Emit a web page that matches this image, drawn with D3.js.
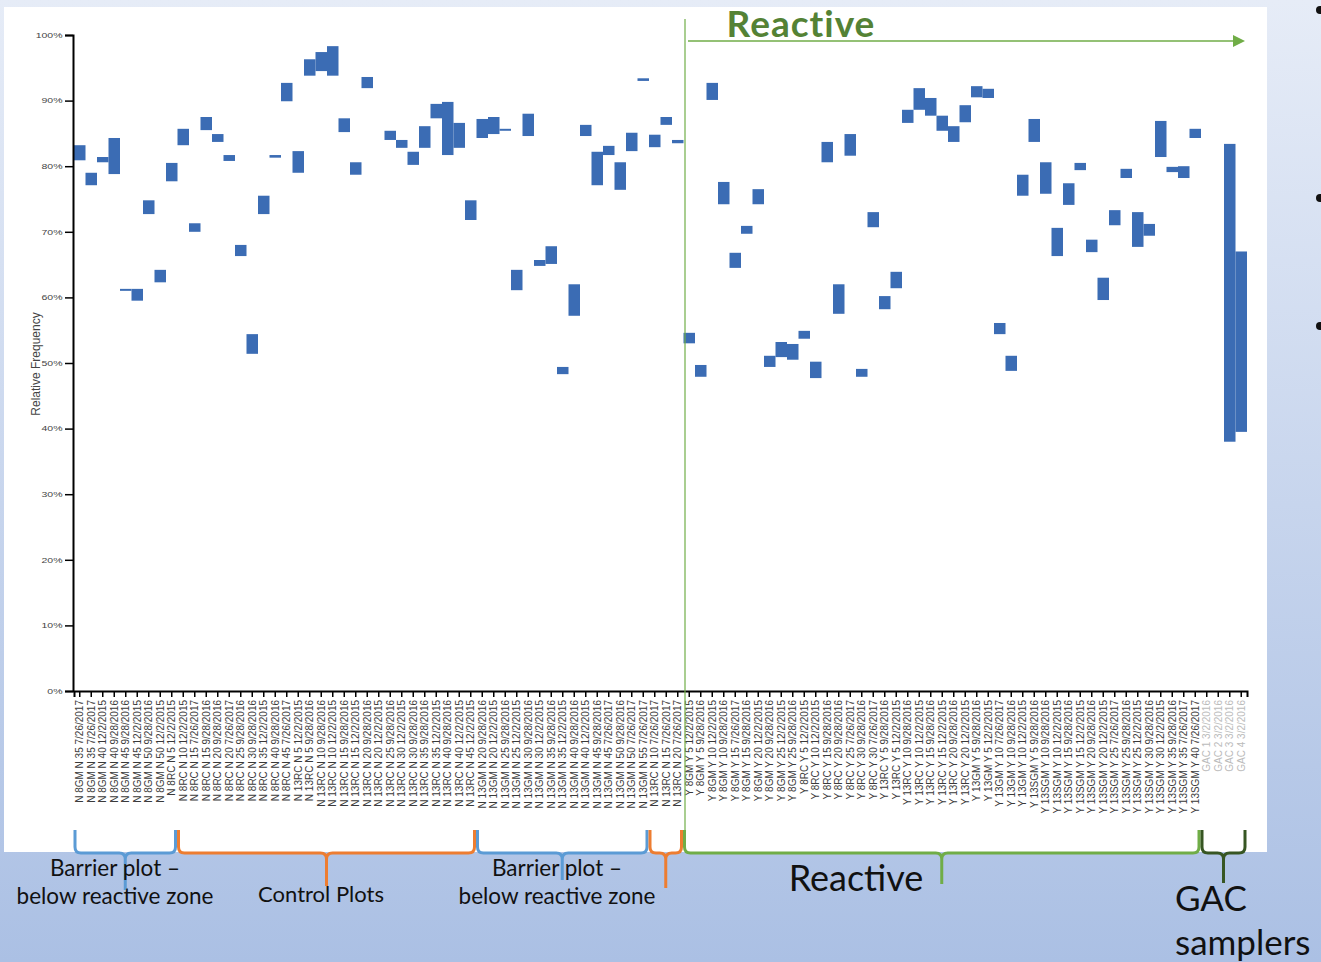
<!DOCTYPE html>
<html>
<head>
<meta charset="utf-8">
<script src="https://cdn.jsdelivr.net/npm/d3@7"></script>
<style>
body { margin: 0; overflow: hidden; }
svg { display: block; }
</style>
</head>
<body>
<svg></svg>
<script>
let labels = [
  'N 8GM N 35 7/26/2017', 'N 8GM N 35 7/26/2017', 'N 8GM N 40 12/2/2015', 'N 8GM N 40 9/28/2016',
  'N 8GM N 45 9/28/2016', 'N 8GM N 45 12/2/2015', 'N 8GM N 50 9/28/2016', 'N 8GM N 50 12/2/2015',
  'N 8RC N 5 12/2/2015',
  'N 8RC N 10 12/2/2015', 'N 8RC N 15 7/26/2017', 'N 8RC N 15 9/28/2016', 'N 8RC N 20 9/28/2016',
  'N 8RC N 20 7/26/2017', 'N 8RC N 25 9/28/2016', 'N 8RC N 30 9/28/2016', 'N 8RC N 35 12/2/2015',
  'N 8RC N 40 9/28/2016', 'N 8RC N 45 7/26/2017', 'N 13RC N 5 12/2/2015', 'N 13RC N 5 9/28/2016',
  'N 13RC N 10 9/28/2016', 'N 13RC N 10 12/2/2015', 'N 13RC N 15 9/28/2016', 'N 13RC N 15 12/2/2015',
  'N 13RC N 20 9/28/2016', 'N 13RC N 20 12/2/2015', 'N 13RC N 25 9/28/2016', 'N 13RC N 30 12/2/2015',
  'N 13RC N 30 9/28/2016', 'N 13RC N 35 9/28/2016', 'N 13RC N 35 12/2/2015', 'N 13RC N 40 9/28/2016',
  'N 13RC N 40 12/2/2015', 'N 13RC N 45 12/2/2015',
  'N 13GM N 20 9/28/2016', 'N 13GM N 20 12/2/2015', 'N 13GM N 25 9/28/2016', 'N 13GM N 25 12/2/2015',
  'N 13GM N 30 9/28/2016', 'N 13GM N 30 12/2/2015', 'N 13GM N 35 9/28/2016', 'N 13GM N 35 12/2/2015',
  'N 13GM N 40 9/28/2016', 'N 13GM N 40 12/2/2015', 'N 13GM N 45 9/28/2016', 'N 13GM N 45 7/26/2017',
  'N 13GM N 50 9/28/2016', 'N 13GM N 50 7/26/2017', 'N 13GM N 55 7/26/2017',
  'N 13RC N 10 7/26/2017', 'N 13RC N 15 7/26/2017', 'N 13RC N 20 7/26/2017',
  'Y 8GM Y 5 12/2/2015', 'Y 8GM Y 5 9/28/2016', 'Y 8GM Y 10 12/2/2015', 'Y 8GM Y 10 9/28/2016',
  'Y 8GM Y 15 7/26/2017', 'Y 8GM Y 15 9/28/2016', 'Y 8GM Y 20 12/2/2015', 'Y 8GM Y 20 9/28/2016',
  'Y 8GM Y 25 12/2/2015', 'Y 8GM Y 25 9/28/2016', 'Y 8RC Y 5 12/2/2015', 'Y 8RC Y 10 12/2/2015',
  'Y 8RC Y 15 9/28/2016', 'Y 8RC Y 20 9/28/2016', 'Y 8RC Y 25 7/26/2017', 'Y 8RC Y 30 9/28/2016',
  'Y 8RC Y 30 7/26/2017', 'Y 13RC Y 5 9/28/2016', 'Y 13RC Y 5 12/2/2015', 'Y 13RC Y 10 9/28/2016',
  'Y 13RC Y 10 12/2/2015', 'Y 13RC Y 15 9/28/2016', 'Y 13RC Y 15 12/2/2015', 'Y 13RC Y 20 9/28/2016',
  'Y 13RC Y 20 12/2/2015', 'Y 13GM Y 5 9/28/2016', 'Y 13GM Y 5 12/2/2015', 'Y 13GM Y 10 7/26/2017',
  'Y 13GM Y 10 9/28/2016', 'Y 13GM Y 10 12/2/2015', 'Y 13SGM Y 5 9/28/2016', 'Y 13SGM Y 10 9/28/2016',
  'Y 13SGM Y 10 12/2/2015', 'Y 13SGM Y 15 9/28/2016', 'Y 13SGM Y 15 12/2/2015', 'Y 13SGM Y 20 9/28/2016',
  'Y 13SGM Y 20 12/2/2015', 'Y 13SGM Y 25 7/26/2017', 'Y 13SGM Y 25 9/28/2016', 'Y 13SGM Y 25 12/2/2015',
  'Y 13SGM Y 30 9/28/2016', 'Y 13SGM Y 30 12/2/2015', 'Y 13SGM Y 35 9/28/2016', 'Y 13SGM Y 35 7/26/2017',
  'Y 13SGM Y 40 7/26/2017',
  'GAC 1 3/2/2016', 'GAC 2 3/2/2016', 'GAC 3 3/2/2016', 'GAC 4 3/2/2016'
]

let lows = [
  80.9, 77.1, 80.6, 78.8, 61.0, 59.5, 72.7, 62.3, 77.7,
  83.2, 70.0, 85.5, 83.7, 80.8, 66.3, 51.4, 72.7, 81.3, 89.9, 79.0, 93.8, 94.5, 93.8, 85.2, 78.7, 91.9, null,
  84.0, 82.8, 80.2, 82.8, 87.3, 81.7, 82.8, 71.8,
  84.3, 84.9, 85.4, 61.1, 84.6, 64.8, 65.1, 48.3, 57.2, 84.6, 77.1, 81.7, 76.4, 82.3, 93.0,
  82.9, 86.3, 83.5,
  53.0, 47.9, 90.1, 74.2, 64.5, 69.7, 74.2, 49.4, 50.9, 50.5, 53.7, 47.7, 80.6, 57.5, 81.6, 47.9, 70.7,
  58.2, 61.4, 86.6, 88.6, 87.7, 85.4, 83.7, 86.7, 90.5, 90.4, 54.4, 48.8, 75.5, 83.7, 75.8, 66.3, 74.1,
  79.4, 66.9, 59.6, 71.0, 78.2, 67.7, 69.4, 81.4, 79.1, 78.2, 84.3,
  null, null, 38.0, 39.5
]

let highs = [
  83.2, 79.0, 81.4, 84.3, 61.3, 61.3, 74.8, 64.2, 80.5,
  85.7, 71.3, 87.5, 84.9, 81.7, 68.0, 54.4, 75.5, 81.7, 92.7, 82.3, 96.3, 97.4, 98.3, 87.3, 80.6, 93.6, null,
  85.4, 84.0, 82.2, 86.1, 89.5, 89.8, 86.6, 74.8,
  87.2, 87.5, 85.7, 64.2, 88.0, 65.7, 67.8, 49.4, 62.0, 86.3, 82.2, 83.1, 80.6, 85.1, 93.4,
  84.8, 87.5, 84.0,
  54.6, 49.7, 92.7, 77.6, 66.8, 70.9, 76.5, 51.1, 53.2, 52.9, 54.9, 50.2, 83.7, 62.0, 84.9, 49.1, 73.0,
  60.2, 63.9, 88.6, 91.9, 90.4, 87.7, 86.1, 89.3, 92.2, 91.8, 56.1, 51.1, 78.7, 87.2, 80.6, 70.6, 77.4,
  80.5, 68.8, 63.0, 73.3, 79.6, 73.0, 71.2, 86.9, 79.9, 80.0, 85.7,
  null, null, 83.4, 67.0
]

let yTicks = [0, 10, 20, 30, 40, 50, 60, 70, 80, 90, 100]

let groupNames = ['Barrier plot –|below reactive zone', 'Control Plots', 'Barrier plot –|below reactive zone', '', 'Reactive', 'GAC|samplers']
let groupStarts = [0, 9, 35, 50, 53, 98]
let groupEnds = [8, 34, 49, 52, 97, 101]
let groupColors = ['#5b9bd5', '#ed7d31', '#5b9bd5', '#ed7d31', '#70ad47', '#375623']

let width = 1321
let height = 962
let plotLeft = 74
let plotRight = 1247
let plotTop = 35
let plotBottom = 691

let svg = d3.select('svg')
            .attr('width', width)
            .attr('height', height)

let defs = svg.append('defs')
let grad = defs.append('linearGradient')
               .attr('id', 'bg')
               .attr('x1', 0).attr('y1', 0)
               .attr('x2', 0).attr('y2', 1)
grad.append('stop').attr('offset', '0%').attr('stop-color', '#e6ecf7')
grad.append('stop').attr('offset', '100%').attr('stop-color', '#abc0e4')

svg.append('rect')
   .attr('width', width)
   .attr('height', height)
   .attr('fill', 'url(#bg)')

svg.append('rect')
   .attr('x', 4)
   .attr('y', 7)
   .attr('width', 1263)
   .attr('height', 845)
   .attr('fill', '#ffffff')

let xScale = d3.scaleBand()
               .domain(d3.range(labels.length))
               .range([plotLeft, plotRight])
               .padding(0)

let yScale = d3.scaleLinear()
               .domain([0, 100])
               .range([plotBottom, plotTop])

let bars = d3.range(labels.length).filter((i) => highs[i] != null)

svg.selectAll('.bar')
   .data(bars)
   .enter()
   .append('rect')
   .attr('class', 'bar')
   .attr('x', (i) => xScale(i))
   .attr('width', xScale.bandwidth())
   .attr('y', (i) => yScale(highs[i]))
   .attr('height', (i) => Math.max(1.5, yScale(lows[i]) - yScale(highs[i])))
   .attr('fill', '#3b6cb4')

let yAxis = d3.axisLeft(yScale)
              .tickValues(yTicks)
              .tickSize(8)
              .tickFormat((d) => d + '%')

let yg = svg.append('g')
   .attr('id', 'y-axis')
   .attr('transform', 'translate(' + (plotLeft - 1) + ', 0)')
   .call(yAxis)

yg.select('.domain').attr('stroke-width', 2)
yg.selectAll('line').attr('stroke-width', 1.5)
yg.selectAll('text')
  .attr('x', -7)
  .attr('transform', 'scale(1.5, 1)')
  .style('font-family', 'Liberation Sans, Arial, sans-serif')
  .style('font-size', '7px')
  .attr('fill', '#444')

let xAxis = d3.axisBottom(xScale)
              .tickSize(6)
              .tickFormat((i) => labels[i])

let xg = svg.append('g')
   .attr('id', 'x-axis')
   .attr('transform', 'translate(0, ' + plotBottom + ')')
   .call(xAxis)

xg.select('.domain').attr('stroke-width', 2)
xg.selectAll('line').attr('stroke-width', 1.5)
xg.selectAll('text')
  .attr('y', 0)
  .attr('x', -9)
  .attr('dy', '0.35em')
  .attr('transform', 'rotate(-90)')
  .style('text-anchor', 'end')
  .style('font-family', 'Liberation Sans, Arial, sans-serif')
  .style('font-size', '10px')
  .attr('fill', (i) => i >= 98 ? '#bbb' : '#3a3a3a')

svg.append('text')
   .attr('transform', 'translate(40, 364) rotate(-90)')
   .attr('text-anchor', 'middle')
   .style('font-family', 'Liberation Sans, Arial, sans-serif')
   .style('font-size', '12px')
   .attr('fill', '#444')
   .text('Relative Frequency')

// reactive marker
let split = xScale(groupStarts[4]) + 1.5
svg.append('line')
   .attr('x1', split).attr('x2', split)
   .attr('y1', 19).attr('y2', 850)
   .attr('stroke', '#70ad47')
   .attr('stroke-width', 1.2)

svg.append('line')
   .attr('x1', split + 3).attr('x2', plotRight - 10)
   .attr('y1', 41).attr('y2', 41)
   .attr('stroke', '#70ad47')
   .attr('stroke-width', 1.5)

svg.append('path')
   .attr('d', 'M' + (plotRight - 14) + ',35 L' + (plotRight - 2) + ',41 L' + (plotRight - 14) + ',47 Z')
   .attr('fill', '#70ad47')

svg.append('text')
   .attr('x', 801)
   .attr('y', 37)
   .attr('text-anchor', 'middle')
   .style('font-family', 'Lato, sans-serif')
   .style('font-weight', 'bold')
   .style('font-size', '37px')
   .style('letter-spacing', '1px')
   .attr('fill', '#548235')
   .text('Reactive')

// brackets
let brace = (x1, x2, yTop, yMid, tip) => {
    let cx = (x1 + x2) / 2
    let r = 6
    return 'M' + x1 + ',' + yTop + ' L' + x1 + ',' + (yMid - r) + ' Q' + x1 + ',' + yMid + ' ' + (x1 + r) + ',' + yMid +
           ' L' + (cx - r) + ',' + yMid + ' Q' + cx + ',' + yMid + ' ' + cx + ',' + (yMid + r) + ' L' + cx + ',' + tip +
           ' M' + x2 + ',' + yTop + ' L' + x2 + ',' + (yMid - r) + ' Q' + x2 + ',' + yMid + ' ' + (x2 - r) + ',' + yMid +
           ' L' + (cx + r) + ',' + yMid + ' Q' + cx + ',' + yMid + ' ' + cx + ',' + (yMid + r)
}

let braceTips = [890, 886, 880, 888, 884, 883]
groupStarts.forEach((s, k) => {
    let x1 = xScale(s) + 1
    let x2 = xScale(groupEnds[k]) + xScale.bandwidth() - 2
    svg.append('path')
       .attr('d', brace(x1, x2, 830, 853, braceTips[k]))
       .attr('fill', 'none')
       .attr('stroke', groupColors[k])
       .attr('stroke-width', 3)
})

let caption = (x, y, lines, size, anchor, gap) => {
    lines.split('|').forEach((t, j) => {
        svg.append('text')
           .attr('x', x)
           .attr('y', y + j * gap)
           .attr('text-anchor', anchor)
           .style('font-family', 'Lato, sans-serif')
           .style('font-size', size + 'px')
           .attr('fill', '#111')
           .text(t)
    })
}

caption(115, 876, groupNames[0], 22.5, 'middle', 28)
caption(321, 902, groupNames[1], 22, 'middle', 28)
caption(557, 876, groupNames[2], 22.5, 'middle', 28)
caption(856, 891, groupNames[4], 36, 'middle', 0)
caption(1175, 911, groupNames[5], 35, 'start', 44)

;[10, 198, 326].forEach((y) => {
    svg.append('circle')
       .attr('cx', 1320)
       .attr('cy', y)
       .attr('r', 4)
       .attr('fill', '#111')
})
</script>
</body>
</html>
